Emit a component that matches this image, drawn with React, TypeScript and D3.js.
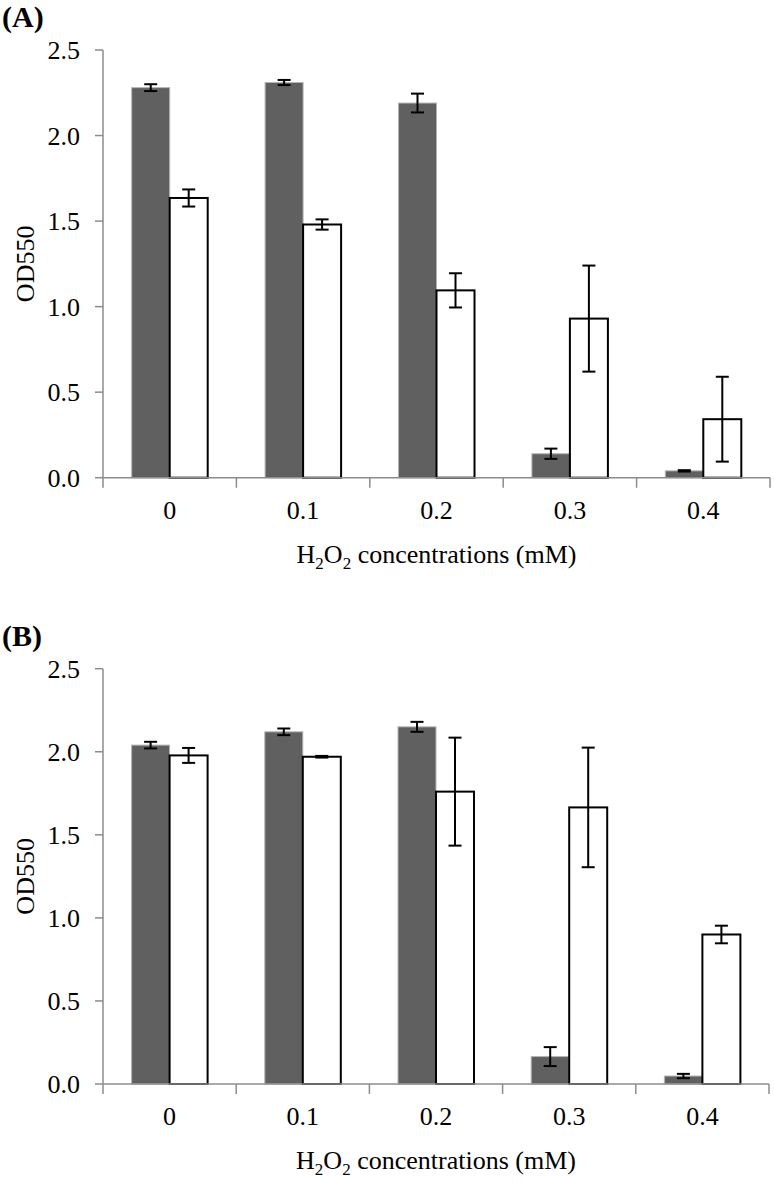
import React from "react";
import * as d3 from "d3";

const categories = ["0", "0.1", "0.2", "0.3", "0.4"];
const yTicks = [0, 0.5, 1.0, 1.5, 2.0, 2.5];

// Panel A
const aDark = [2.28, 2.31, 2.19, 0.14, 0.04];
const aDarkErr = [0.02, 0.015, 0.055, 0.03, 0.004];
const aWhite = [1.635, 1.48, 1.095, 0.93, 0.342];
const aWhiteErr = [0.05, 0.03, 0.1, 0.31, 0.248];

// Panel B
const bDark = [2.04, 2.12, 2.15, 0.165, 0.048];
const bDarkErr = [0.02, 0.02, 0.03, 0.057, 0.013];
const bWhite = [1.978, 1.97, 1.76, 1.665, 0.9];
const bWhiteErr = [0.045, 0.005, 0.325, 0.36, 0.053];

const FONT = "'Liberation Serif', 'Times New Roman', serif";
const AXIS = "#8c8c8c";

type PanelProps = {
  label: string;
  top: number;
  bottom: number;
  left: number;
  right: number;
  dark: number[];
  darkErr: number[];
  white: number[];
  whiteErr: number[];
  labelY: number;
};

function Panel(p: PanelProps) {
  const x = d3.scaleBand<string>().domain(categories).range([p.left, p.right]).paddingInner(0).paddingOuter(0);
  const bw = x.bandwidth();
  const inner = d3
    .scaleBand<string>()
    .domain(["dark", "white"])
    .range([bw / 2 - 38, bw / 2 + 38])
    .padding(0);
  const y = d3.scaleLinear().domain([0, 2.5]).range([p.bottom, p.top]);
  const sw = inner.bandwidth();
  const cap = 6.5;

  const errBar = (cx: number, v: number, e: number, key: string) => (
    <g key={key} stroke="#000" strokeWidth={2}>
      <line x1={cx} x2={cx} y1={y(v - e)} y2={y(v + e)} />
      <line x1={cx - cap} x2={cx + cap} y1={y(v + e)} y2={y(v + e)} />
      <line x1={cx - cap} x2={cx + cap} y1={y(v - e)} y2={y(v - e)} />
    </g>
  );

  return (
    <g>
      <text x={2} y={p.labelY} fontFamily={FONT} fontWeight="bold" fontSize={30}>
        {p.label}
      </text>
      {categories.map((c, i) => {
        const x0 = (x(c) as number) + (inner("dark") as number);
        const x1 = (x(c) as number) + (inner("white") as number);
        return (
          <g key={c}>
            <rect x={x0} y={y(p.dark[i])} width={sw} height={y(0) - y(p.dark[i])} fill="#606060" stroke="#b4b4b4" strokeWidth={1} />
            <rect x={x1} y={y(p.white[i])} width={sw} height={y(0) - y(p.white[i])} fill="#fff" stroke="#000" strokeWidth={2} />
          </g>
        );
      })}
      {categories.map((c, i) => {
        const cx0 = (x(c) as number) + (inner("dark") as number) + sw / 2;
        const cx1 = (x(c) as number) + (inner("white") as number) + sw / 2;
        return (
          <g key={"e" + c}>
            {errBar(cx0, p.dark[i], p.darkErr[i], "d")}
            {errBar(cx1, p.white[i], p.whiteErr[i], "w")}
          </g>
        );
      })}
      <line x1={p.left} x2={p.left} y1={p.top} y2={p.bottom} stroke={AXIS} strokeWidth={1.5} />
      {yTicks.map((t) => (
        <g key={t}>
          <line x1={p.left - 8} x2={p.left} y1={y(t)} y2={y(t)} stroke={AXIS} strokeWidth={1.5} />
          <text x={80} y={y(t)} dy="0.35em" textAnchor="end" fontFamily={FONT} fontSize={26} fill="#000">
            {t.toFixed(1)}
          </text>
        </g>
      ))}
      <line x1={p.left} x2={p.right} y1={p.bottom} y2={p.bottom} stroke={AXIS} strokeWidth={1.5} />
      {[...categories.map((c) => x(c) as number), p.right].map((xx, i) => (
        <line key={i} x1={xx} x2={xx} y1={p.bottom} y2={p.bottom + 10} stroke={AXIS} strokeWidth={1.5} />
      ))}
      {categories.map((c) => (
        <text key={c} x={(x(c) as number) + bw / 2} y={p.bottom + 41} textAnchor="middle" fontFamily={FONT} fontSize={26}>
          {c}
        </text>
      ))}
      <text x={(p.left + p.right) / 2} y={p.bottom + 85} textAnchor="middle" fontFamily={FONT} fontSize={26}>
        H<tspan fontSize={17} dy={6}>2</tspan>
        <tspan dy={-6}>O</tspan>
        <tspan fontSize={17} dy={6}>2</tspan>
        <tspan dy={-6}> concentrations (mM)</tspan>
      </text>
      <text
        transform={`translate(${34},${(p.top + p.bottom) / 2}) rotate(-90)`}
        textAnchor="middle"
        fontFamily={FONT}
        fontSize={26}
      >
        OD550
      </text>
    </g>
  );
}

export default function App() {
  return (
    <svg width={774} height={1182} style={{ position: "absolute", left: 0, top: 0, background: "#fff" }}>
      <rect width={774} height={1182} fill="#fff" />
      <Panel
        label="(A)"
        top={50}
        bottom={477.7}
        left={103}
        right={770}
        dark={aDark}
        darkErr={aDarkErr}
        white={aWhite}
        whiteErr={aWhiteErr}
        labelY={27}
      />
      <Panel
        label="(B)"
        top={668.7}
        bottom={1084}
        left={103}
        right={769}
        dark={bDark}
        darkErr={bDarkErr}
        white={bWhite}
        whiteErr={bWhiteErr}
        labelY={646}
      />
    </svg>
  );
}
